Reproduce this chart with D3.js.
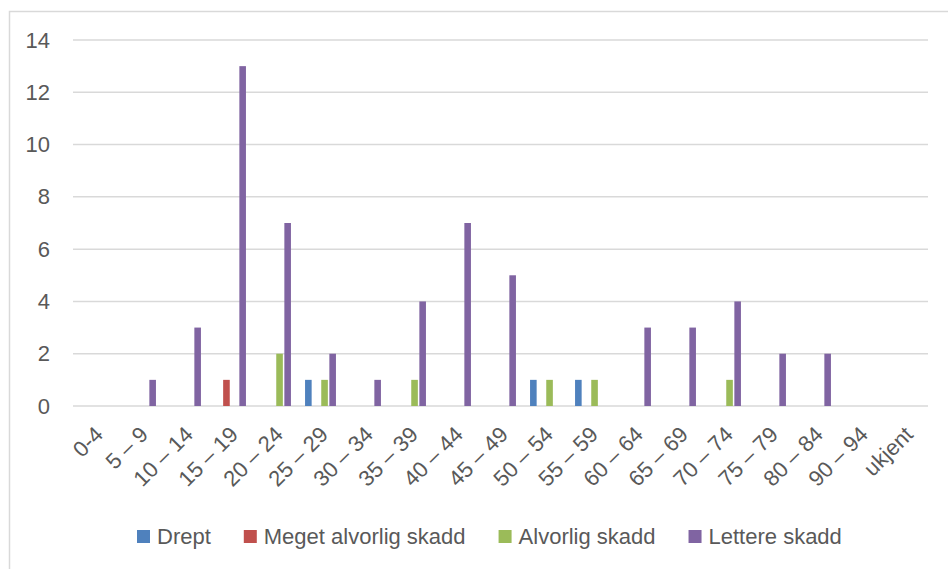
<!DOCTYPE html>
<html>
<head>
<meta charset="utf-8">
<script src="https://cdn.jsdelivr.net/npm/d3@7"></script>
<style>
body { margin: 0; background: #fff; }
text { font-family: "Liberation Sans", Arial, sans-serif; fill: #595959; }
</style>
</head>
<body>
<div id="container"></div>
<script>
var categories = ['0-4','5 – 9','10 – 14','15 – 19','20 – 24','25 – 29','30 – 34','35 – 39','40 – 44','45 – 49',
    '50 – 54','55 – 59','60 – 64','65 – 69','70 – 74','75 – 79','80 – 84','90 – 94','ukjent'];
var seriesNames = ['Drept','Meget alvorlig skadd','Alvorlig skadd','Lettere skadd'];
var seriesColors = ['#4f81bd','#c0504d','#9bbb59','#8064a2'];
var drept =         [0,0,0,0,0,1,0,0,0,0,1,1,0,0,0,0,0,0,0];
var megetAlvorlig = [0,0,0,1,0,0,0,0,0,0,0,0,0,0,0,0,0,0,0];
var alvorlig =      [0,0,0,0,2,1,0,1,0,0,1,1,0,0,1,0,0,0,0];
var lettere =       [0,1,3,13,7,2,1,4,7,5,0,0,3,3,4,2,2,0,0];
var yTicks = [0,2,4,6,8,10,12,14];

var width = 948;
var height = 569;
var plot = {left: 73, right: 928, top: 40, bottom: 406};
var fontSize = '22px';

var svg = d3.select('#container').append('svg')
    .attr('width', width).attr('height', height);

// chart frame
svg.append('rect')
    .attr('x', 9.5).attr('y', 11.5)
    .attr('width', width + 10).attr('height', height + 10)
    .attr('fill', 'none').attr('stroke', '#d9d9d9').attr('stroke-width', 1.5);

var x = d3.scaleBand().domain(categories).range([plot.left, plot.right]);
var inner = d3.scaleBand().domain(seriesNames).range([0, 4 * 8.1]);
var y = d3.scaleLinear().domain([0, 14]).range([plot.bottom, plot.top]);

// gridlines
svg.append('g').selectAll('line').data(yTicks).enter().append('line')
    .attr('x1', plot.left).attr('x2', plot.right)
    .attr('y1', d => y(d)).attr('y2', d => y(d))
    .attr('stroke', '#d9d9d9').attr('stroke-width', 1.5);

// y axis labels
var yAxis = d3.axisLeft(y).tickValues(yTicks).tickSize(0).tickPadding(0);
var yg = svg.append('g').attr('transform', 'translate(50,0)').call(yAxis)
    .attr('font-size', null).attr('font-family', null);
yg.select('.domain').remove();
yg.selectAll('text').style('font-size', fontSize).attr('fill', '#595959');

var series = [drept, megetAlvorlig, alvorlig, lettere];
var groupOffset = (x.bandwidth() - 4 * 8.1) / 2;

series.forEach(function(values, s){
    var g = svg.append('g').attr('class', 'bars');
    values.forEach(function(v, i){
        if(v <= 0) return;
        g.append('rect')
            .attr('x', x(categories[i]) + groupOffset + inner(seriesNames[s]) + 0.75)
            .attr('y', y(v))
            .attr('width', 6.6)
            .attr('height', y(0) - y(v))
            .attr('fill', seriesColors[s]);
    });
});

// x axis labels
var xg = svg.append('g');
categories.forEach(function(c){
    var cx = x(c) + x.bandwidth() / 2;
    xg.append('text')
        .attr('transform', 'translate(' + (cx - 2) + ',' + 425 + ') rotate(-45)')
        .attr('text-anchor', 'end')
        .attr('dy', '0.7em')
        .style('font-size', fontSize)
        .text(c);
});

// legend
var legend = svg.append('g');
var lx = 137;
seriesNames.forEach(function(name, s){
    legend.append('rect')
        .attr('x', lx).attr('y', 530)
        .attr('width', 13).attr('height', 13)
        .attr('fill', seriesColors[s]);
    var t = legend.append('text')
        .attr('x', lx + 20).attr('y', 544)
        .style('font-size', fontSize)
        .text(name);
    lx += 20 + t.node().getComputedTextLength() + 33;
});
</script>
</body>
</html>
